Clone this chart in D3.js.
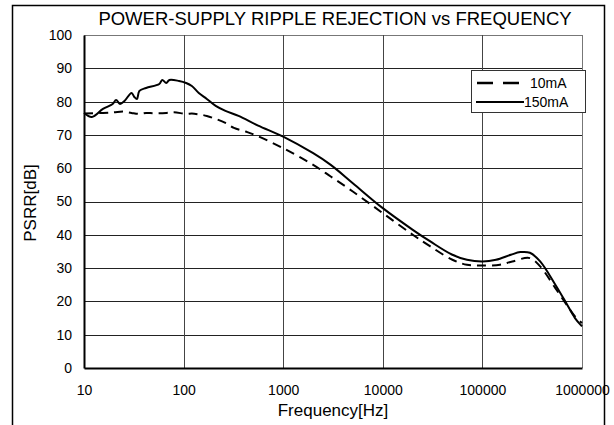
<!DOCTYPE html>
<html>
<head>
<meta charset="utf-8">
<script src="https://cdn.jsdelivr.net/npm/d3@7"></script>
<style>
  body { margin: 0; background: #fff; }
  svg text { font-family: "Liberation Sans", Arial, sans-serif; fill: #000; }
</style>
</head>
<body>
<div id="chart"></div>
<script>
// chart data
var freqTicks = [10, 100, 1000, 10000, 100000, 1000000];
var dbTicks = [0, 10, 20, 30, 40, 50, 60, 70, 80, 90, 100];
var seriesNames = ["10mA", "150mA"];

var freq150 = [10, 12, 15.5, 19.4, 21, 23, 25.5, 30, 32, 34, 36, 42, 57, 61, 67, 72, 90, 106, 121, 142, 171, 210, 263, 356, 560, 1000, 2000, 3000, 5000, 10000, 20000, 30000, 50000, 70000, 100000, 137000, 193000, 240000, 300000, 380000, 540000, 710000, 850000, 1000000];
var db150 = [76.6, 75.4, 77.8, 79.3, 80.5, 79.3, 80.2, 82.6, 81.4, 80.8, 83.2, 84.1, 85.3, 86.5, 85.6, 86.5, 86.2, 85.6, 84.7, 82.6, 80.8, 78.7, 77.2, 75.7, 72.8, 69.5, 64.5, 61, 55.5, 48, 41.5, 38, 34, 32.5, 32, 32.5, 34, 34.8, 34.6, 32, 25, 19, 15, 12.5];

var freq10 = [10, 15.5, 20, 25, 30, 36, 42, 50, 67, 80, 106, 121, 140, 171, 210, 263, 320, 420, 520, 1000, 2000, 3000, 5000, 10000, 20000, 30000, 50000, 70000, 100000, 150000, 200000, 300000, 380000, 540000, 700000, 850000, 1000000];
var db10 = [76.4, 76.6, 76.8, 77, 76.6, 76.3, 76.6, 76.5, 76.6, 76.8, 76.3, 76.4, 76.2, 75.7, 74.8, 73.6, 72.1, 71, 70, 66, 61, 57.5, 53, 46.5, 40, 36.5, 32.5, 31, 30.8, 31, 32, 33, 30.5, 24, 19, 15.5, 13.5];

var W = 614, H = 425;
var margin = { top: 35, right: 32, bottom: 57, left: 84 };
var iw = W - margin.left - margin.right;
var ih = H - margin.top - margin.bottom;

var svg = d3.select("#chart").append("svg")
    .attr("width", W)
    .attr("height", H);

// outer frame (open at the bottom)
svg.append("path")
    .attr("d", "M12.5," + H + "V5.5H604.5V" + H)
    .attr("fill", "none")
    .attr("stroke", "#000")
    .attr("stroke-width", 1.5);

var x = d3.scaleLog().domain([10, 1000000]).range([0, iw]);
var y = d3.scaleLinear().domain([0, 100]).range([ih, 0]);

var g = svg.append("g")
    .attr("transform", "translate(" + margin.left + "," + margin.top + ")");

// grid
g.selectAll(".hgrid").data(dbTicks.slice(1)).enter().append("line")
    .attr("x1", 0).attr("x2", iw)
    .attr("y1", function (d) { return Math.round(y(d)) + 0.5; })
    .attr("y2", function (d) { return Math.round(y(d)) + 0.5; })
    .attr("stroke", function (d) { return d === 100 ? "#777" : "#222"; })
    .attr("stroke-width", 1);

g.selectAll(".vgrid").data(freqTicks.slice(1)).enter().append("line")
    .attr("y1", 0).attr("y2", ih)
    .attr("x1", function (d) { return Math.round(x(d)) + 0.5; })
    .attr("x2", function (d) { return Math.round(x(d)) + 0.5; })
    .attr("stroke", function (d) { return d === 1000000 ? "#777" : "#444"; })
    .attr("stroke-width", 1);

// axes
var yAxis = d3.axisLeft(y).tickValues(dbTicks).tickSize(0).tickPadding(12);
var xAxis = d3.axisBottom(x).tickValues(freqTicks).tickSize(0).tickPadding(17)
    .tickFormat(d3.format("d"));

var ya = g.append("g").call(yAxis);
ya.select(".domain").attr("stroke", "#000").attr("stroke-width", 2);
ya.selectAll("text").style("font-size", "14px");

var xa = g.append("g").attr("transform", "translate(0," + ih + ")").call(xAxis);
xa.select(".domain").attr("stroke", "#000").attr("stroke-width", 2);
xa.selectAll("text").style("font-size", "14px");

// curves
var line = d3.line()
    .x(function (d) { return x(d[0]); })
    .y(function (d) { return y(d[1]); })
    .curve(d3.curveCatmullRom);

g.append("path")
    .datum(d3.zip(freq10, db10))
    .attr("fill", "none")
    .attr("stroke", "#000")
    .attr("stroke-width", 2)
    .attr("stroke-dasharray", "9,6")
    .attr("d", line);

g.append("path")
    .datum(d3.zip(freq150, db150))
    .attr("fill", "none")
    .attr("stroke", "#000")
    .attr("stroke-width", 2)
    .attr("d", line);

// legend
var lg = svg.append("g").attr("transform", "translate(471,70)");
lg.append("rect")
    .attr("x", 0.5).attr("y", 0.5)
    .attr("width", 114).attr("height", 42)
    .attr("fill", "#fff")
    .attr("stroke", "#333");
lg.append("line")
    .attr("x1", 6).attr("x2", 56).attr("y1", 13).attr("y2", 13)
    .attr("stroke", "#000").attr("stroke-width", 2.5)
    .attr("stroke-dasharray", "16,10");
lg.append("line")
    .attr("x1", 5).attr("x2", 53).attr("y1", 32).attr("y2", 32)
    .attr("stroke", "#000").attr("stroke-width", 2);
lg.selectAll(".lt").data(seriesNames).enter().append("text")
    .attr("x", function (d, i) { return i === 0 ? 59 : 53; })
    .attr("y", function (d, i) { return 18 + i * 19; })
    .style("font-size", "14px")
    .text(function (d) { return d; });

// titles
svg.append("text")
    .attr("x", 335).attr("y", 25)
    .attr("text-anchor", "middle")
    .style("font-size", "18.5px")
    .text("POWER-SUPPLY RIPPLE REJECTION vs FREQUENCY");

svg.append("text")
    .attr("x", 333).attr("y", 416)
    .attr("text-anchor", "middle")
    .style("font-size", "17px")
    .text("Frequency[Hz]");

svg.append("text")
    .attr("transform", "translate(36,203) rotate(-90)")
    .attr("text-anchor", "middle")
    .style("font-size", "17px")
    .text("PSRR[dB]");
</script>
</body>
</html>
